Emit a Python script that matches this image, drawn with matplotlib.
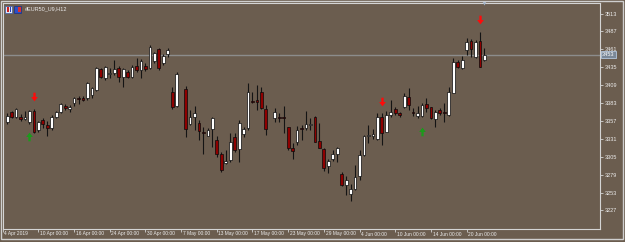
import numpy as np
import matplotlib
matplotlib.use('Agg')
import matplotlib.pyplot as plt
from matplotlib.path import Path
from matplotlib.patches import Rectangle
import matplotlib.transforms as mtransforms
from matplotlib import font_manager as fm

# ---------------- data ----------------
symbol = "#EUR50_U9,H12"
bar_index = list(range(1, 109))
nan = float('nan')
opens = [3355.1, 3369.5, 3363.1, 3362.2, 3359.3, 3355.1, 3371.4, 3343.8, 3358.3, 3351.1,
         3346.3, 3363.1, 3369.5, 3378.7, 3374.3, 3382.6, 3389.9, 3390.7, 3389.9, 3394.7,
         3401.9, 3432.0, 3419.8, 3424.7, 3427.1, 3434.3, 3421.2, 3428.5, 3420.4, 3436.8,
         3431.0, 3436.8, 3433.4, 3444.0, 3461.5, 3440.8, 3453.7, 3398.6, 3379.1, nan,
         3402.9, 3352.1, 3362.2, 3354.5, 3341.4, 3335.5, 3344.8, 3329.3, 3308.5, 3295.4,
         3300.2, 3334.1, 3316.0, 3337.6, 3346.3, 3386.4, 3387.4, 3398.6, 3374.3, nan,
         3360.8, 3363.1, 3363.1, 3347.7, 3318.1, 3326.9, 3346.3, 3346.3, 3351.1, 3362.2,
         3327.9, 3315.9, 3290.9, 3301.6, 3308.9, 3280.4, 3264.4, 3250.8, 3258.1, 3276.5,
         3308.0, 3334.6, 3334.6, 3330.7, 3363.1, 3341.4, 3365.6, 3374.0, 3367.9, 3377.7,
         3392.2, 3370.4, 3364.1, 3364.1, 3381.2, 3376.7, 3359.3, 3372.9, 3369.5, 3365.6,
         3397.9, 3442.9, 3433.4, 3460.0, 3473.6, 3450.3, 3473.6, 3445.5]
highs = [3368.5, 3371.4, 3376.2, 3367.1, 3371.9, 3372.9, 3374.3, 3356.9, 3360.8, 3356.9,
         3365.6, 3371.4, 3382.6, 3381.2, 3380.1, 3392.2, 3393.6, 3393.2, 3414.0, 3406.7,
         3435.8, 3434.3, 3436.8, 3433.9, 3445.5, 3436.8, 3434.3, 3431.0, 3438.2, 3448.8,
         3446.5, 3440.8, 3467.3, 3457.6, 3462.5, 3453.7, 3462.5, 3406.7, 3428.5, nan,
         3407.7, 3372.9, 3378.7, 3358.3, 3348.7, 3346.3, 3362.7, 3335.1, 3311.9, 3314.8,
         3340.0, 3339.0, 3358.3, 3348.7, 3411.7, 3399.5, 3409.2, 3406.7, 3380.1, nan,
         3376.2, 3368.7, 3378.0, 3348.7, 3324.5, 3350.1, 3351.1, 3371.4, 3360.8, 3364.1,
         3353.5, 3317.2, 3302.0, 3314.8, 3319.6, 3282.8, 3276.5, 3265.4, 3293.0, 3314.8,
         3336.1, 3351.1, 3345.8, 3368.1, 3368.1, 3371.4, 3387.4, 3377.9, 3370.4, 3397.1,
         3404.4, 3375.3, 3378.0, 3382.6, 3389.9, 3377.7, 3372.9, 3375.3, 3382.6, 3405.8,
         3447.8, 3445.5, 3451.3, 3477.0, 3475.6, 3474.1, 3486.7, 3462.5]
lows = [3352.5, 3361.7, 3360.8, 3357.3, 3358.3, 3353.2, 3339.0, 3341.4, 3346.3, 3335.7,
        3343.8, 3360.8, 3368.1, 3372.9, 3370.4, 3379.1, 3381.2, 3385.9, 3387.4, 3389.9,
        3400.9, 3418.9, 3416.5, 3418.9, 3423.3, 3414.0, 3406.7, 3418.9, 3418.9, 3428.5,
        3419.8, 3429.9, 3432.0, 3440.8, 3431.0, 3438.2, 3450.3, 3374.0, 3377.7, nan,
        3334.0, 3351.1, 3343.8, 3329.3, 3309.0, 3334.5, 3319.6, 3305.0, 3282.8, 3294.0,
        3297.8, 3312.3, 3297.8, 3334.0, 3343.8, 3382.6, 3372.9, 3374.3, 3336.7, nan,
        3355.9, 3355.9, 3340.0, 3314.8, 3301.6, 3322.1, 3329.3, 3343.8, 3343.8, 3326.0,
        3317.2, 3284.2, 3281.3, 3298.8, 3297.8, 3262.0, 3249.4, 3241.1, 3256.7, 3271.2,
        3306.6, 3324.6, 3331.3, 3329.3, 3322.1, 3340.9, 3363.1, 3365.6, 3363.1, 3375.5,
        3372.9, 3364.6, 3360.8, 3363.1, 3370.4, 3359.3, 3348.7, 3365.6, 3355.9, 3364.1,
        3397.1, 3433.4, 3432.0, 3452.8, 3450.3, 3448.4, 3434.8, 3443.6]
closes = [3364.6, 3363.1, 3374.3, 3359.3, 3363.1, 3371.4, 3340.5, 3355.0, 3352.1, 3346.3,
          3362.2, 3369.5, 3381.2, 3375.3, 3377.2, 3389.9, 3388.5, 3387.4, 3411.7, 3404.4,
          3433.4, 3421.2, 3434.9, 3427.1, 3432.4, 3421.2, 3432.4, 3421.2, 3435.8, 3431.0,
          3444.0, 3432.0, 3464.8, 3455.2, 3433.4, 3451.7, 3460.0, 3377.7, 3425.2, nan,
          3344.8, 3363.1, 3368.4, 3342.4, 3339.9, 3343.8, 3360.8, 3308.5, 3285.7, 3298.8,
          3326.9, 3314.8, 3353.8, 3344.8, 3399.5, 3385.0, 3384.9, 3376.2, 3344.8, nan,
          3369.5, 3360.8, 3361.7, 3318.1, 3313.3, 3343.8, 3345.0, 3352.1, 3352.6, 3326.9,
          3318.1, 3288.6, 3299.1, 3308.9, 3318.1, 3263.4, 3270.7, 3258.1, 3276.0, 3308.0,
          3334.6, 3336.6, 3338.5, 3363.1, 3339.0, 3365.6, 3370.4, 3369.1, 3365.6, 3393.2,
          3380.1, 3368.1, 3368.1, 3380.1, 3375.3, 3360.8, 3370.4, 3368.1, 3368.1, 3399.5,
          3442.9, 3434.8, 3445.5, 3472.1, 3461.0, 3472.1, 3435.8, 3453.0]

date_tick_index = [0, 8, 16, 24, 32, 40, 48, 56, 64, 72, 80, 88, 96, 104]
date_tick_labels = ["4 Apr 2019", "10 Apr 00:00", "16 Apr 00:00", "24 Apr 00:00",
                    "30 Apr 00:00", "7 May 00:00", "13 May 00:00", "17 May 00:00",
                    "23 May 00:00", "29 May 00:00", "4 Jun 00:00", "10 Jun 00:00",
                    "14 Jun 00:00", "20 Jun 00:00"]
price_ticks = [3227, 3253, 3279, 3305, 3331, 3357, 3383, 3409, 3435, 3461, 3487, 3513]
last_price = 3453
sell_signal_index = [7, 85, 107]
sell_signal_price = [3392, 3385, 3504]
buy_signal_index = [6, 94]
buy_signal_price = [3335, 3342]

# ---------------- style ----------------
BG = '#6b5d4f'
FG = '#ececec'
SPINE = '#d4d4d4'
BEAR = '#8e0000'

available = {f.name for f in fm.fontManager.ttflist}
if 'Liberation Sans Narrow' in available:
    FONT, FS = 'Liberation Sans Narrow', 4.7
elif 'DejaVu Sans Condensed' in available:
    FONT, FS = 'DejaVu Sans Condensed', 4.2
else:
    FONT, FS = 'Liberation Sans', 4.0
plt.rcParams['font.family'] = [FONT, 'DejaVu Sans']

W, H = 625, 242
fig = plt.figure(figsize=(W / 100, H / 100), dpi=100, facecolor=BG)
ax = fig.add_axes([2.5 / W, 13 / H, 597.9 / W, 226 / H])
ax.set_facecolor(BG)

o = np.array(opens, float)
h = np.array(highs, float)
l = np.array(lows, float)
c = np.array(closes, float)
xi = np.array(bar_index, float)
ok = ~np.isnan(o)
xi, o, h, l, c = xi[ok], o[ok], h[ok], l[ok], c[ok]
up = c >= o

ax.axhline(last_price, color='#8c8c8c', lw=1.0, zorder=1)
ax.vlines(xi, l, h, color='#141414', lw=0.8, zorder=2)
ax.bar(xi, np.maximum(np.abs(c - o), 0.4), bottom=np.minimum(o, c), width=0.62,
       color=np.where(up, '#ffffff', BEAR), edgecolor='#0a0a0a', linewidth=0.5, zorder=3)

# signal arrows
down_arrow = Path([(-0.24, 1.0), (0.24, 1.0), (0.24, 0.1), (0.7, 0.1), (0.0, -0.8),
                   (-0.7, 0.1), (-0.24, 0.1), (-0.24, 1.0)],
                  [Path.MOVETO] + [Path.LINETO] * 6 + [Path.CLOSEPOLY])
up_arrow = Path([(x, -y) for x, y in down_arrow.vertices], down_arrow.codes)
ax.scatter(sell_signal_index, sell_signal_price, marker=down_arrow, s=48, color='#ff0a0a',
           linewidths=0, zorder=4)
ax.scatter(buy_signal_index, buy_signal_price, marker=up_arrow, s=48, color='#1c9a1c',
           linewidths=0, zorder=4)

ax.set_xlim(-0.05, 134.0)
ax.set_ylim(3200, 3528.3)

for s in ax.spines.values():
    s.set_color(SPINE)
    s.set_linewidth(0.8)

ax.yaxis.tick_right()
ax.set_yticks(price_ticks)
ax.set_yticklabels([str(v) for v in price_ticks])
ax.tick_params(axis='y', colors=SPINE, labelcolor=FG, length=2.2, width=0.6,
               labelsize=FS, pad=0.8)
ax.set_xticks(date_tick_index)
ax.set_xticklabels(date_tick_labels)
ax.tick_params(axis='x', colors=SPINE, labelcolor=FG, length=2.4, width=0.6,
               labelsize=FS * 0.88, pad=-0.6)
off = mtransforms.ScaledTranslation(1.2 / 72, 0, fig.dpi_scale_trans)
for lbl in ax.get_xticklabels():
    lbl.set_horizontalalignment('left')
    lbl.set_transform(lbl.get_transform() + off)

# current price box
ax.text(1.003, last_price, str(last_price),
        transform=mtransforms.blended_transform_factory(ax.transAxes, ax.transData),
        ha='left', va='center', fontsize=FS, color='#ffffff', zorder=5,
        bbox=dict(boxstyle='square,pad=0.2', fc='#7a8898', ec='#b4c8de', lw=0.6),
        clip_on=False)

# chart shift marker at top
ax.plot([bar_index[-1]], [1.0], marker='v', ms=3, color='#9fb0c4', mec='none',
        transform=mtransforms.blended_transform_factory(ax.transData, ax.transAxes),
        clip_on=False, zorder=6)

# title with small icons
fig.patches.append(Rectangle((5 / W, 1 - 13 / H), 7 / W, 7 / H, transform=fig.transFigure,
                             fc='#dfe6f2', ec='#3a5ca8', lw=0.5))
fig.patches.append(Rectangle((7 / W, 1 - 12 / H), 1.5 / W, 5 / H, transform=fig.transFigure,
                             fc='#d02020', ec='none'))
fig.patches.append(Rectangle((9.5 / W, 1 - 12 / H), 1.5 / W, 5 / H, transform=fig.transFigure,
                             fc='#2040c0', ec='none'))
fig.patches.append(Rectangle((14 / W, 1 - 13 / H), 7 / W, 7 / H, transform=fig.transFigure,
                             fc='#2c4fc8', ec='#1c2f80', lw=0.5))
fig.patches.append(Rectangle((17.5 / W, 1 - 12 / H), 3 / W, 5 / H, transform=fig.transFigure,
                             fc='#e03030', ec='none'))
fig.text(25 / W, 1 - 9 / H, symbol, color=FG, fontsize=FS, va='center', ha='left')

# window frame
fig.patches.append(Rectangle((0.5 / W, 3.5 / H), 622.5 / W, 238 / H, transform=fig.transFigure,
                             fill=False, ec='#cfcfcf', lw=1.0))

fig.savefig('out.png', dpi=100, facecolor=BG)
